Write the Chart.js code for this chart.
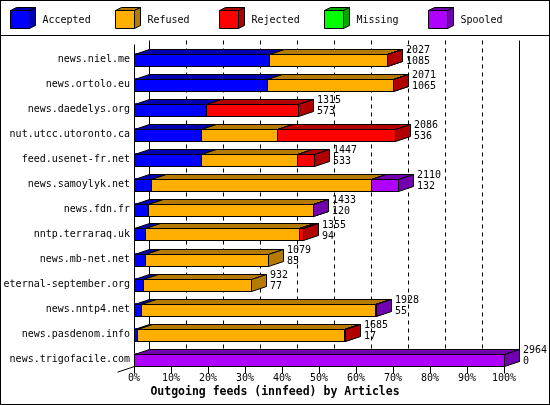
<!DOCTYPE html>
<html>
<head>
<meta charset="utf-8">
<script src="https://cdn.jsdelivr.net/npm/chart.js@4/dist/chart.umd.min.js"></script>
<style>
  html, body { margin: 0; padding: 0; background: #fff; }
  #wrap { width: 550px; height: 405px; position: relative; }
</style>
</head>
<body>
<div id="wrap"><canvas id="c" width="550" height="405"></canvas></div>
<script>
// ---- data ----
const categories = ['news.niel.me','news.ortolo.eu','news.daedelys.org','nut.utcc.utoronto.ca','feed.usenet-fr.net','news.samoylyk.net','news.fdn.fr','nntp.terraraq.uk','news.mb-net.net','eternal-september.org','news.nntp4.net','news.pasdenom.info','news.trigofacile.com'];
const seriesNames = ['Accepted','Refused','Rejected','Missing','Spooled'];
const accepted = [36.6, 35.9, 19.4, 18.0, 18.0, 4.5, 3.9, 3.1, 2.9, 2.5, 1.8, 0.7, 0];
const refused  = [31.7, 34.0, 0, 20.7, 26.0, 59.5, 44.4, 41.6, 33.4, 29.0, 63.3, 56.1, 0];
const rejected = [0.2, 0.2, 25.0, 31.8, 4.7, 0, 0, 1.1, 0, 0, 0, 0.2, 0];
const missing  = [0, 0, 0, 0, 0, 0, 0, 0, 0, 0, 0, 0, 0];
const spooled  = [0, 0, 0, 0, 0, 7.3, 0.2, 0, 0, 0, 0.2, 0, 100];
const totalArticles = [2027, 2071, 1315, 2086, 1447, 2110, 1433, 1355, 1079, 932, 1928, 1685, 2964];
const secondValues  = [1085, 1065, 573, 536, 533, 132, 120, 94, 85, 77, 55, 17, 0];
const xTicks = [0, 10, 20, 30, 40, 50, 60, 70, 80, 90, 100];
const titleText = 'Outgoing feeds (innfeed) by Articles';

// ---- style ----
const colors = ['#0000ff', '#ffaf00', '#ff0000', '#00ff00', '#af00ff'];
const darkColors = ['#0000b0', '#b47b00', '#b00000', '#00a800', '#7200b0'];
const FONT = '"DejaVu Sans Mono", "Liberation Mono", monospace';
const DX = 15, DY = 5;

const allSeries = [accepted, refused, rejected, missing, spooled];

function box(ctx, x0, x1, yT, yB, col, dark, dx, dy) {
  ctx.lineWidth = 1;
  ctx.strokeStyle = '#000';
  ctx.beginPath();
  ctx.moveTo(x0, yT); ctx.lineTo(x0 + dx, yT - dy); ctx.lineTo(x1 + dx, yT - dy); ctx.lineTo(x1, yT); ctx.closePath();
  ctx.fillStyle = dark; ctx.fill(); ctx.stroke();
  ctx.beginPath();
  ctx.moveTo(x1, yT); ctx.lineTo(x1 + dx, yT - dy); ctx.lineTo(x1 + dx, yB - dy); ctx.lineTo(x1, yB); ctx.closePath();
  ctx.fillStyle = dark; ctx.fill(); ctx.stroke();
  ctx.beginPath();
  ctx.rect(x0, yT, x1 - x0, yB - yT);
  ctx.fillStyle = col; ctx.fill(); ctx.stroke();
}

const frame3d = {
  id: 'frame3d',
  beforeDraw(chart) {
    const ctx = chart.ctx;
    ctx.save();
    ctx.fillStyle = '#fff';
    ctx.fillRect(0, 0, 550, 405);
    ctx.restore();
  },
  beforeDatasetsDraw(chart) {
    const ctx = chart.ctx, xs = chart.scales.x, ys = chart.scales.y, ca = chart.chartArea;
    const left = Math.round(xs.getPixelForValue(0)) + 0.5;
    const right = Math.round(xs.getPixelForValue(100)) + 0.5;
    const axisY = Math.round(ys.getPixelForValue(categories.length - 1) + 6) + 0.5;
    const backTop = Math.round(ca.top) - 7 + 0.5;
    ctx.save();
    ctx.strokeStyle = '#000';
    ctx.lineWidth = 1;
    ctx.setLineDash([4, 4]);
    for (let k = 1; k < xTicks.length - 1; k++) {
      const gx = Math.round(xs.getPixelForValue(xTicks[k])) + DX + 0.5;
      ctx.beginPath(); ctx.moveTo(gx, backTop); ctx.lineTo(gx, axisY - DY); ctx.stroke();
    }
    ctx.setLineDash([]);
    ctx.beginPath();
    ctx.moveTo(left + DX, backTop); ctx.lineTo(left + DX, axisY - DY);
    ctx.moveTo(right + DX, backTop); ctx.lineTo(right + DX, axisY - DY);
    ctx.moveTo(left + DX, axisY - DY); ctx.lineTo(right + DX, axisY - DY);
    ctx.moveTo(left + DX, axisY - DY); ctx.lineTo(left - 17, axisY + 5.7);
    ctx.moveTo(left, backTop + 4); ctx.lineTo(left, axisY);
    ctx.moveTo(left, axisY); ctx.lineTo(right, axisY);
    for (const t of xTicks) {
      const tx = Math.round(xs.getPixelForValue(t)) + 0.5;
      ctx.moveTo(tx, axisY); ctx.lineTo(tx, axisY + 7);
    }
    ctx.stroke();
    ctx.restore();
  },
  afterDatasetsDraw(chart) {
    const ctx = chart.ctx, xs = chart.scales.x;
    ctx.save();
    for (let i = 0; i < categories.length; i++) {
      let yc = null;
      for (let d = 0; d < allSeries.length; d++) {
        const v = allSeries[d][i];
        const el = chart.getDatasetMeta(d).data[i];
        yc = el.y;
        if (!(v > 0)) continue;
        const x0 = Math.round(Math.min(el.base, el.x)) + 0.5;
        const x1 = Math.round(Math.max(el.base, el.x)) + 0.5;
        const yT = Math.round(el.y - 6) + 0.5;
        const yB = Math.round(el.y + 6) + 0.5;
        box(ctx, x0, x1, yT, yB, colors[d], darkColors[d], DX, DY);
      }
      let sum = 0;
      for (let d = 0; d < allSeries.length; d++) sum += allSeries[d][i];
      const lx = Math.round(xs.getPixelForValue(sum)) + DX + 4;
      ctx.fillStyle = '#000';
      ctx.font = '10px ' + FONT;
      ctx.textAlign = 'left';
      ctx.textBaseline = 'middle';
      ctx.fillText(String(totalArticles[i]), lx, yc - 9);
      ctx.fillText(String(secondValues[i]), lx, yc + 2);
    }
    ctx.restore();
  },
  afterDraw(chart) {
    const ctx = chart.ctx;
    ctx.save();
    ctx.strokeStyle = '#000';
    ctx.lineWidth = 1;
    ctx.strokeRect(0.5, 0.5, 549, 404);
    ctx.beginPath(); ctx.moveTo(0, 35.5); ctx.lineTo(550, 35.5); ctx.stroke();
    ctx.font = '10px ' + FONT;
    ctx.textAlign = 'left';
    ctx.textBaseline = 'middle';
    for (let d = 0; d < seriesNames.length; d++) {
      const bx = Math.round(10 + d * 104.5) + 0.5;
      box(ctx, bx, bx + 19, 10.5, 28.5, colors[d], darkColors[d], 6, 3);
      ctx.fillStyle = '#000';
      ctx.fillText(seriesNames[d], bx + 32, 20);
    }
    ctx.font = 'bold 11.5px ' + FONT;
    ctx.textAlign = 'center';
    ctx.fillStyle = '#000';
    ctx.fillText(titleText, 275, 392);
    ctx.restore();
  }
};

const datasets = seriesNames.map((name, d) => ({
  label: name,
  data: allSeries[d],
  backgroundColor: colors[d],
  borderWidth: 0,
  barThickness: 12
}));

new Chart(document.getElementById('c'), {
  type: 'bar',
  data: { labels: categories, datasets },
  options: {
    indexAxis: 'y',
    responsive: false,
    animation: false,
    devicePixelRatio: 1,
    layout: { padding: { left: 0, right: 46, top: 47, bottom: 0 } },
    plugins: { legend: { display: false }, tooltip: { enabled: false }, title: { display: false } },
    scales: {
      x: {
        stacked: true, min: 0, max: 100,
        grid: { display: false, drawTicks: false }, border: { display: false },
        afterBuildTicks(scale) { scale.ticks = xTicks.map(v => ({ value: v })); },
        afterFit(scale) { scale.height = 33; },
        ticks: { callback: v => v + '%', color: '#000', font: { family: FONT, size: 10 }, padding: 0, maxRotation: 0, autoSkip: false }
      },
      y: {
        stacked: true,
        grid: { display: false, drawTicks: false }, border: { display: false },
        afterFit(scale) { scale.width = 134; },
        ticks: { color: '#000', font: { family: FONT, size: 10 }, padding: 4, autoSkip: false }
      }
    }
  },
  plugins: [frame3d]
});
</script>
</body>
</html>
